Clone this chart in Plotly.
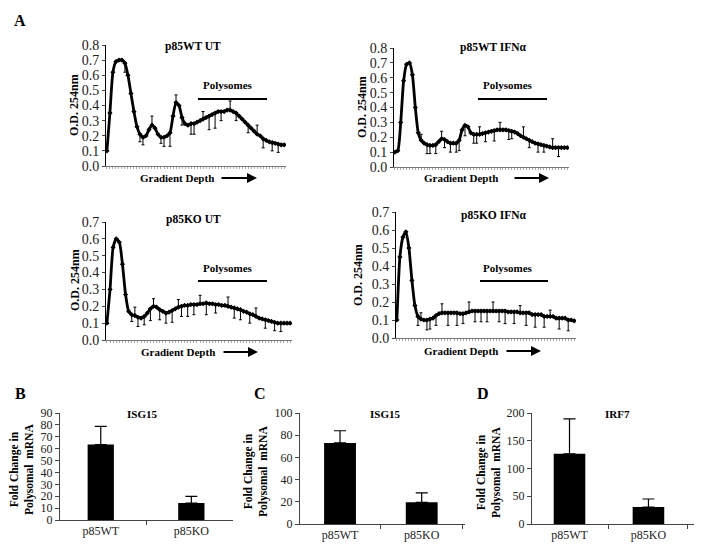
import plotly.graph_objects as go

# the page body keeps its 8px margin, so the figure is sized to the rest of the window
OFF = 8
W, H = 702 - OFF, 554 - OFF
SERIF = "Liberation Serif, Times New Roman, serif"

# panel A: polysome profiles, O.D. 254nm along the gradient (60 fractions)
depth = list(range(60))

wt_ut = [0.10, 0.35, 0.62, 0.69, 0.70, 0.70, 0.68, 0.60, 0.48, 0.36,
         0.26, 0.21, 0.19, 0.20, 0.24, 0.27, 0.25, 0.21, 0.19, 0.19,
         0.20, 0.22, 0.33, 0.42, 0.40, 0.32, 0.28, 0.27, 0.28, 0.28,
         0.29, 0.30, 0.31, 0.32, 0.33, 0.34, 0.35, 0.36, 0.36, 0.36,
         0.37, 0.37, 0.36, 0.35, 0.33, 0.31, 0.29, 0.27, 0.25, 0.23,
         0.21, 0.20, 0.18, 0.17, 0.16, 0.155, 0.15, 0.145, 0.14, 0.14]
wt_ifn = [0.10, 0.11, 0.30, 0.58, 0.69, 0.70, 0.62, 0.40, 0.23, 0.18,
          0.16, 0.15, 0.145, 0.145, 0.15, 0.17, 0.19, 0.185, 0.17, 0.16,
          0.16, 0.16, 0.18, 0.25, 0.28, 0.27, 0.23, 0.22, 0.22, 0.22,
          0.225, 0.23, 0.235, 0.24, 0.245, 0.25, 0.25, 0.25, 0.25, 0.245,
          0.24, 0.235, 0.225, 0.21, 0.20, 0.19, 0.18, 0.17, 0.16, 0.155,
          0.15, 0.145, 0.14, 0.135, 0.13, 0.13, 0.13, 0.13, 0.13, 0.13]
ko_ut = [0.10, 0.30, 0.55, 0.60, 0.58, 0.45, 0.27, 0.17, 0.15, 0.145,
         0.135, 0.13, 0.14, 0.16, 0.185, 0.20, 0.195, 0.18, 0.17, 0.16,
         0.165, 0.175, 0.185, 0.195, 0.20, 0.205, 0.205, 0.21, 0.21, 0.21,
         0.215, 0.215, 0.22, 0.215, 0.215, 0.21, 0.21, 0.205, 0.205, 0.20,
         0.195, 0.19, 0.185, 0.18, 0.17, 0.165, 0.155, 0.15, 0.14, 0.13,
         0.125, 0.12, 0.115, 0.11, 0.105, 0.10, 0.10, 0.10, 0.10, 0.10]
ko_ifn = [0.10, 0.45, 0.56, 0.59, 0.50, 0.32, 0.18, 0.12, 0.105, 0.10,
          0.10, 0.105, 0.11, 0.125, 0.135, 0.14, 0.14, 0.14, 0.14, 0.14,
          0.14, 0.135, 0.135, 0.14, 0.145, 0.15, 0.15, 0.15, 0.15, 0.15,
          0.15, 0.15, 0.15, 0.15, 0.15, 0.15, 0.15, 0.145, 0.145, 0.145,
          0.145, 0.14, 0.14, 0.14, 0.14, 0.13, 0.13, 0.13, 0.13, 0.12,
          0.12, 0.12, 0.12, 0.11, 0.11, 0.11, 0.11, 0.10, 0.10, 0.095]

# error bars: fraction index and signed error (+ up, - down)
wt_ut_eb_idx = [6, 11, 12, 15, 18, 19, 21, 23, 25, 28, 29, 32, 34, 36, 38, 41, 43, 47, 50, 52, 55, 57]
wt_ut_eb = [-0.06, -0.05, -0.05, 0.06, -0.04, -0.06, -0.09, 0.05, -0.05, -0.07, -0.07,
            0.05, -0.09, -0.10, -0.06, 0.06, -0.05, -0.05, 0.06, -0.06, -0.055, -0.055]
wt_ifn_eb_idx = [9, 11, 12, 14, 16, 17, 19, 21, 22, 24, 27, 28, 29, 31, 34, 36, 39, 40, 44, 46, 49, 51, 54, 56]
wt_ifn_eb = [0.04, -0.06, -0.055, -0.06, 0.05, -0.055, -0.06, -0.06, -0.07, -0.07, -0.06, -0.06,
             0.05, -0.06, -0.07, 0.05, -0.06, -0.05, 0.07, -0.05, -0.055, -0.045, 0.06, -0.06]
ko_ut_eb_idx = [8, 9, 10, 12, 14, 15, 17, 19, 21, 23, 24, 26, 28, 30, 32, 35, 39, 41, 43, 46, 48, 51, 54, 56]
ko_ut_eb = [-0.04, 0.05, -0.055, -0.05, -0.07, 0.045, -0.06, -0.06, -0.07, 0.045, -0.06, -0.065,
            -0.06, 0.05, -0.07, -0.05, 0.055, -0.06, -0.06, -0.055, 0.05, -0.05, -0.05, -0.05]
ko_ifn_eb_idx = [7, 8, 10, 11, 13, 15, 17, 20, 22, 24, 26, 28, 30, 32, 34, 36, 39, 41, 43, 46, 49, 51, 54, 57]
ko_ifn_eb = [-0.05, 0.035, -0.055, -0.055, -0.055, 0.05, -0.07, -0.07, -0.055, 0.055, -0.06, -0.06,
             -0.06, 0.05, -0.06, -0.07, -0.065, 0.04, -0.07, -0.07, -0.06, 0.035, -0.06, -0.06]

# panels B-D: fold change in polysomal mRNA
genotypes = ["p85WT", "p85KO"]
isg15_b = [63.5, 14.3]
isg15_b_err = [15.3, 5.6]
isg15_c = [73, 19.5]
isg15_c_err = [11, 8.5]
irf7_d = [126.5, 30.5]
irf7_d_err = [63, 14.5]


# positions below are in window pixels; convert to paper fractions
def px(x):
    return (x - OFF) / W


def py(y):
    return 1 - (y - OFF) / H


fig = go.Figure()

profiles = [
    ("p85WT UT", wt_ut, wt_ut_eb_idx, wt_ut_eb, [106, 286], [166, 45], 0.8),
    ("p85WT IFNα", wt_ifn, wt_ifn_eb_idx, wt_ifn_eb, [394, 569], [167, 48], 0.8),
    ("p85KO UT", ko_ut, ko_ut_eb_idx, ko_ut_eb, [106, 292], [340, 222], 0.7),
    ("p85KO IFNα", ko_ifn, ko_ifn_eb_idx, ko_ifn_eb, [396, 576], [338, 212], 0.7),
]

for k, (name, od, ei, ev, xd, yd, ymax) in enumerate(profiles, start=1):
    xa, ya = "x%d" % k, "y%d" % k
    fig.add_trace(go.Scatter(
        x=[depth[i] for i in ei], y=[od[i] for i in ei], mode="markers",
        marker=dict(size=3, color="black"),
        error_y=dict(type="data", symmetric=False,
                     array=[max(v, 0) for v in ev], arrayminus=[max(-v, 0) for v in ev],
                     color="black", thickness=1, width=1.5),
        xaxis=xa, yaxis=ya, showlegend=False, hoverinfo="skip"))
    fig.add_trace(go.Scatter(
        x=depth, y=od, mode="lines+markers", line=dict(color="black", width=2.8, shape="spline", smoothing=0.6),
        marker=dict(symbol="diamond", size=4, color="black"),
        xaxis=xa, yaxis=ya, showlegend=False, name=name))
    sfx = "" if k == 1 else str(k)
    fig.layout["xaxis" + sfx] = dict(
        domain=[px(xd[0]), px(xd[1])], anchor=ya, range=[-0.3, 59.6], automargin=False,
        showgrid=False, zeroline=False, showline=True, linecolor="#777", linewidth=1,
        ticks="outside", ticklen=2, tickcolor="#aaa", dtick=1, showticklabels=False)
    fig.layout["yaxis" + sfx] = dict(
        domain=[py(yd[0]), py(yd[1])], anchor=xa, range=[0, ymax], dtick=0.1, tickformat=".1f",
        automargin=False, showgrid=False, zeroline=False, showline=True, linecolor="black",
        linewidth=1, ticks="outside", ticklen=3, tickfont=dict(family=SERIF, size=14, color="#222"))

bars = [
    ("ISG15", isg15_b, isg15_b_err, [60, 233], [520, 413], 90, 10, [-0.45, 1.46], 0.29),
    ("ISG15", isg15_c, isg15_c_err, [300, 465], [524, 413], 100, 20, [-0.49, 1.53], 0.39),
    ("IRF7", irf7_d, irf7_d_err, [532, 697], [524, 413], 200, 50, [-0.475, 1.615], 0.4),
]

for k, (gene, vals, errs, xd, yd, ymax, dt, xr, bw) in enumerate(bars, start=5):
    xa, ya = "x%d" % k, "y%d" % k
    fig.add_trace(go.Bar(
        x=genotypes, y=vals, width=bw, marker=dict(color="black", line=dict(width=0)),
        error_y=dict(type="data", symmetric=False, array=errs, arrayminus=[0, 0],
                     color="black", thickness=1.2, width=6),
        xaxis=xa, yaxis=ya, showlegend=False, name=gene))
    fig.layout["xaxis%d" % k] = dict(
        domain=[px(xd[0]), px(xd[1])], anchor=ya, range=xr, type="category", automargin=False,
        showgrid=False, zeroline=False, showline=True, linecolor="#444", linewidth=1,
        ticks="outside", tickson="boundaries", ticklen=4, tickcolor="#444",
        tickfont=dict(family=SERIF, size=12, color="#222"))
    fig.layout["yaxis%d" % k] = dict(
        domain=[py(yd[0]), py(yd[1])], anchor=xa, range=[0, ymax], dtick=dt, automargin=False,
        showgrid=False, zeroline=False, showline=True, linecolor="#444", linewidth=1,
        ticks="outside", ticklen=4, tickcolor="#444",
        tickfont=dict(family=SERIF, size=12, color="#222"))

anns = []
shapes = []


def label(text, x, y, size=12, bold=True, angle=0):
    t = "<b>%s</b>" % text if bold else text
    anns.append(dict(text=t, x=px(x), y=py(y), xref="paper", yref="paper", showarrow=False,
                     textangle=angle, xanchor="center", yanchor="middle",
                     font=dict(family=SERIF, size=size, color="black")))


# panel letters
label("A", 20, 20, 16)
label("B", 20, 393, 16)
label("C", 260, 393, 16)
label("D", 483, 393, 16)

# profile texts: title, polysomes label + bar, gradient depth + arrow, y title
ptexts = [
    ("p85WT UT", 193, 47, 228, 85, 198, 267, 99, 177, 178, 220, 257, 74, 105),
    ("p85WT IFNα", 493, 48, 508, 85, 478, 547, 99, 461, 178, 513, 549, 362, 107),
    ("p85KO UT", 193, 220, 228, 268, 198, 267, 281, 178, 352, 222, 258, 75, 280),
    ("p85KO IFNα", 493, 215, 508, 268, 480, 548, 281, 461, 351, 505, 541, 358, 275),
]
for (t, tx, ty, plx, ply, lx0, lx1, ly, gx, gy, ax0, ax1, yx, yy) in ptexts:
    label(t, tx, ty, 11.5)
    label("Polysomes", plx, ply, 11)
    shapes.append(dict(type="line", xref="paper", yref="paper", x0=px(lx0), x1=px(lx1),
                       y0=py(ly), y1=py(ly), line=dict(color="black", width=2)))
    label("Gradient Depth", gx, gy, 11)
    anns.append(dict(x=px(ax1), y=py(gy), ax=-(ax1 - ax0), ay=0, xref="paper", yref="paper",
                     showarrow=True, arrowhead=2, arrowsize=1,
                     arrowwidth=2, arrowcolor="black", text=""))
    label("O.D. 254nm", yx, yy, 12, angle=-90)

# bar panel titles and y titles
for (t, tx, ty, yx, yy) in [("ISG15", 142, 414, 22, 470), ("ISG15", 385, 414, 256, 472),
                             ("IRF7", 617, 414, 489, 472)]:
    label(t, tx, ty, 11)
    label("Fold Change in<br>Polysomal  mRNA", yx, yy, 11.5, angle=-90)

fig.update_layout(
    width=W, height=H, margin=dict(l=0, r=0, t=0, b=0, autoexpand=False),
    paper_bgcolor="white", plot_bgcolor="white",
    font=dict(family=SERIF, color="black"),
    annotations=anns, shapes=shapes, bargap=0.5)

fig.write_html("out.html")
